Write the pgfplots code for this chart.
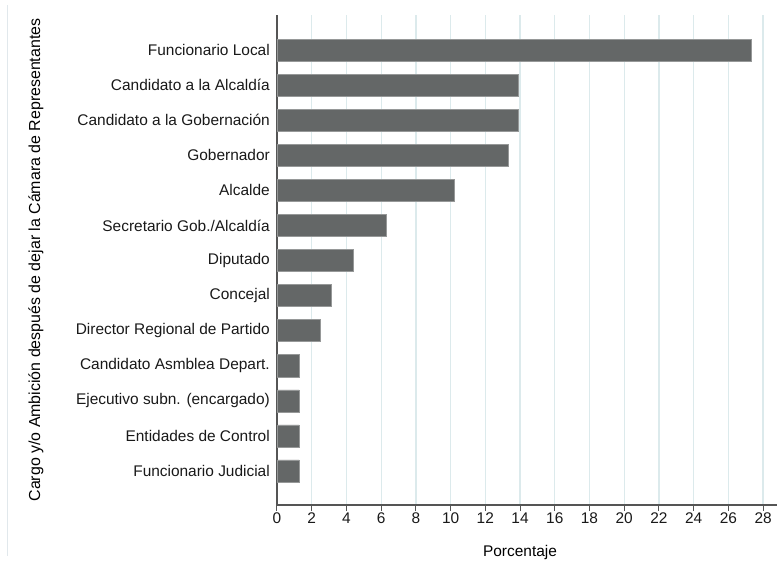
\documentclass[border=0pt]{standalone}
\usepackage{pgfplots}
\pgfplotsset{compat=1.18}
\usepackage{fontspec}
\setmainfont{Liberation Sans}

\definecolor{barfill}{RGB}{100,103,103}
\definecolor{baredge}{RGB}{150,152,152}
\definecolor{gridc}{RGB}{220,234,236}
\definecolor{axisc}{RGB}{85,85,85}
\definecolor{framec}{RGB}{225,232,236}

\begin{document}
\begin{tikzpicture}
\path[use as bounding box] (-277bp,-56bp) rectangle (500bp,505bp);
\draw[framec, line width=0.8bp] (-270bp,-51bp) -- (-270bp,500bp);
\begin{axis}[
    at={(0,0)}, anchor=south west,
    scale only axis,
    width=500bp, height=490bp,
    font=\fontsize{15.5}{18}\selectfont,
    xbar,
    bar width=0.63,
    y dir=reverse,
    xmin=0, xmax=28.8,
    ymin=-1, ymax=12.97,
    xtick={0,2,...,28},
    ytick={0,...,12},
    yticklabels={Funcionario Local, Candidato a la Alcaldía, Candidato a la Gobernación, Gobernador, Alcalde, Secretario Gob./Alcaldía, Diputado, Concejal, Director Regional de Partido, Candidato Asmblea Depart., Ejecutivo subn. (encargado), Entidades de Control, Funcionario Judicial},
    axis x line*=bottom,
    axis y line*=left,
    axis line style={axisc, line width=1.3bp, -},
    x tick style={axisc, line width=1bp},
    tick align=outside,
    major tick length=6bp,
    y tick style={draw=none},
    ytick style={draw=none},
    xmajorgrids,
    grid style={gridc, line width=1.3bp},
    /pgf/number format/assume math mode=true,
    ticklabel style={text=black!90},
    yticklabel style={inner sep=0pt, xshift=-1bp},
    xticklabel style={inner sep=0pt, yshift=-2bp},
    xlabel={Porcentaje},
    ylabel={\fontsize{16}{18}\selectfont Cargo y/o Ambición después de dejar la Cámara de Representantes},
    every axis x label/.style={at={(axis description cs:0.486,0)}, yshift=-47bp, anchor=center},
    every axis y label/.style={at={(axis description cs:-0.482,0.5)}, rotate=90, anchor=center},
]
\addplot[fill=barfill, draw=baredge, line width=0.5bp] coordinates {
    (27.3,0) (13.9,1) (13.9,2) (13.3,3) (10.2,4) (6.3,5) (4.4,6)
    (3.1,7) (2.5,8) (1.27,9) (1.27,10) (1.27,11) (1.27,12)
};
\end{axis}
\end{tikzpicture}
\end{document}
